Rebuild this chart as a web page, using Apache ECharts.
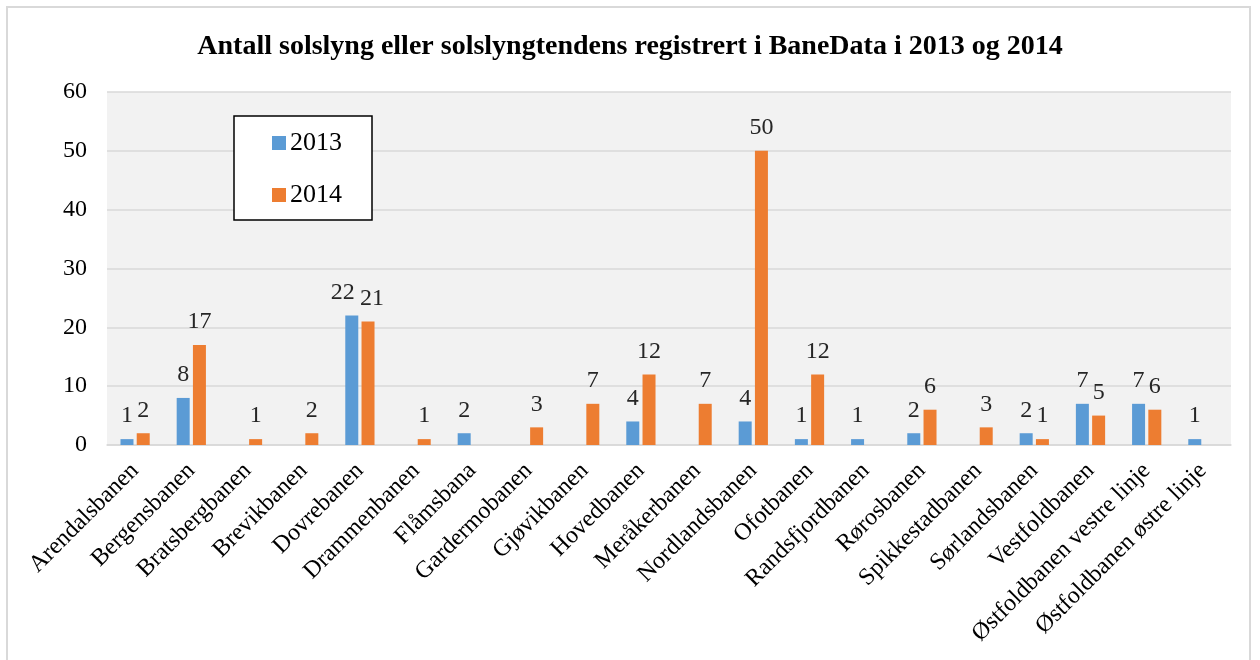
<!DOCTYPE html>
<html>
<head>
<meta charset="utf-8">
<script src="https://cdn.jsdelivr.net/npm/echarts@6/dist/echarts.min.js"></script>
<style>
html,body{margin:0;padding:0;background:#fff;}
#main{width:1260px;height:660px;}
</style>
</head>
<body>
<div id="main"></div>
<script>
// strekninger og antall registreringer per år
var categories = ['Arendalsbanen', 'Bergensbanen', 'Bratsbergbanen', 'Brevikbanen', 'Dovrebanen',
    'Drammenbanen', 'Flåmsbana', 'Gardermobanen', 'Gjøvikbanen', 'Hovedbanen',
    'Meråkerbanen', 'Nordlandsbanen', 'Ofotbanen', 'Randsfjordbanen', 'Rørosbanen',
    'Spikkestadbanen', 'Sørlandsbanen', 'Vestfoldbanen', 'Østfoldbanen vestre linje', 'Østfoldbanen østre linje'];
var y2013 = [1, 8, null, null, 22, null, 2, null, null, 4, null, 4, 1, 1, 2, null, 2, 7, 7, 1];
var y2014 = [2, 17, 1, 2, 21, 1, null, 3, 7, 12, 7, 50, 12, null, 6, 3, 1, 5, 6, null];
var yTicks = [0, 10, 20, 30, 40, 50, 60];

var font = 'Liberation Serif, Times New Roman, serif';
var myecharts = echarts.init(document.getElementById('main'));

var barLabel = {
    show: true,
    position: 'top',
    distance: 11,
    color: '#262626',
    fontFamily: font,
    fontSize: 24
};

// Dovrebanen: etikettene er skjøvet fra hverandre i originalen
function items(vals, dx) {
    return vals.map(function (v, i) {
        if (i === 4) return {value: v, label: {offset: [dx, 0]}};
        return v;
    });
}

var option = {
    animation: false,
    graphic: [{
        type: 'rect',
        shape: {x: 7, y: 7, width: 1243, height: 670},
        style: {fill: 'none', stroke: '#d9d9d9', lineWidth: 2},
        silent: true
    }],
    title: {
        text: 'Antall solslyng eller solslyngtendens registrert i BaneData i 2013 og 2014',
        left: 'center',
        top: 28,
        textStyle: {
            fontFamily: font,
            fontWeight: 'bold',
            fontSize: 28,
            color: '#000'
        }
    },
    legend: {
        data: ['2013', '2014'],
        orient: 'vertical',
        left: 234,
        top: 116,
        padding: [14, 30, 12, 38],
        itemGap: 26,
        itemWidth: 14,
        itemHeight: 14,
        icon: 'rect',
        backgroundColor: '#fff',
        borderColor: '#000',
        borderWidth: 1.5,
        itemStyle: {borderWidth: 0},
        textStyle: {fontFamily: font, fontSize: 26, color: '#000', padding: [0, 0, 0, -1]}
    },
    grid: {
        left: 107,
        right: 29,
        top: 92,
        bottom: 215,
        show: true,
        backgroundColor: '#f2f2f2',
        borderWidth: 0
    },
    xAxis: {
        type: 'category',
        data: categories,
        axisLine: {lineStyle: {color: '#d9d9d9', width: 1.5}},
        axisTick: {show: false},
        axisLabel: {
            interval: 0,
            rotate: 45,
            margin: 22,
            fontFamily: font,
            fontSize: 24,
            color: '#000'
        }
    },
    yAxis: {
        type: 'value',
        min: yTicks[0],
        max: yTicks[yTicks.length - 1],
        interval: 10,
        axisLine: {show: false},
        axisTick: {show: false},
        splitLine: {lineStyle: {color: '#d9d9d9', width: 1.5}},
        axisLabel: {
            margin: 20,
            fontFamily: font,
            fontSize: 24,
            color: '#000'
        }
    },
    series: [
        {
            name: '2013',
            type: 'bar',
            data: items(y2013, -9),
            barWidth: 13,
            barGap: '25%',
            itemStyle: {color: '#5b9bd5'},
            label: barLabel
        },
        {
            name: '2014',
            type: 'bar',
            data: items(y2014, 4),
            barWidth: 13,
            itemStyle: {color: '#ed7d31'},
            label: barLabel
        }
    ]
};
myecharts.setOption(option);
</script>
</body>
</html>
